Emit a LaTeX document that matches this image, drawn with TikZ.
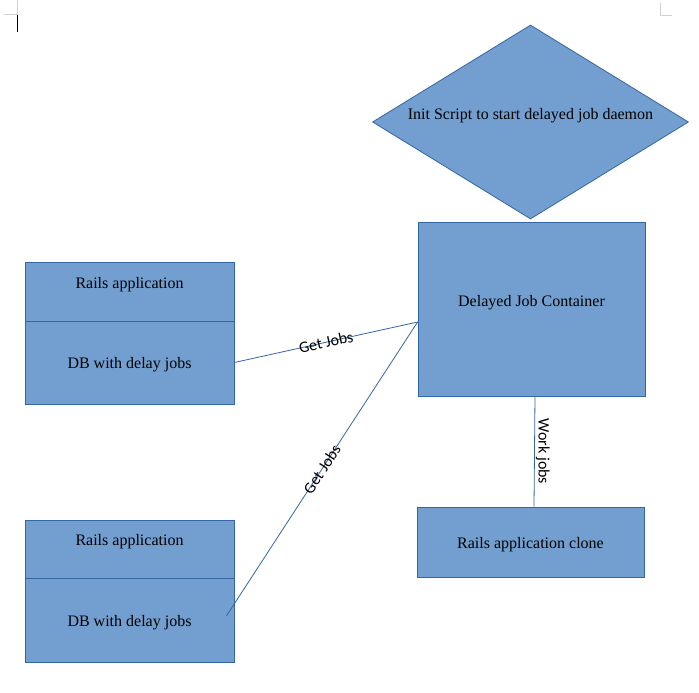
\documentclass[tikz,border=0pt]{standalone}
\usepackage{fontspec}
\setmainfont{Liberation Serif}
\newfontfamily\lblfont{Carlito}
\usetikzlibrary{shapes.geometric}
\definecolor{shapefill}{HTML}{729FCF}
\definecolor{shapeline}{HTML}{3465A4}
\definecolor{markgray}{HTML}{D0D0D0}
\begin{document}
\begin{tikzpicture}[x=1pt,y=-1pt,
  shapebox/.style={draw=shapeline,fill=shapefill,line width=0.8pt,inner sep=0pt,
    font=\fontsize{16}{19}\selectfont,text height=16pt,text depth=4pt},
  box/.style={shapebox,rectangle,minimum width=#1},
  toptext/.style={font=\fontsize{16}{19}\selectfont,text height=16pt,text depth=4pt},
  link/.style={draw=shapeline,line width=0.8pt},
  linklabel/.style={font=\lblfont\fontsize{16}{18}\selectfont,inner sep=1pt}]
  \useasboundingbox (0,0) rectangle (699,693);
  \draw[markgray,line width=1pt] (17,0) -- (17,15) -- (4,15);
  \draw[markgray,line width=1pt] (660,3) -- (660,16) -- (672,16);
  \draw[black,line width=1.5pt] (17.5,15) -- (17.5,32);
  \node[shapebox,diamond,minimum width=316pt,minimum height=194pt,
    label={[toptext,yshift=9pt]center:Init Script to start delayed job daemon}] (init) at (530.5,122) {};
  \node[box=227pt,minimum height=174pt,
    label={[toptext,yshift=9pt]center:Delayed Job Container}] (djc) at (531.5,309) {};
  \node[box=227pt,minimum height=70pt] (clone) at (530.5,542) {Rails application clone};
  \node[box=209pt,minimum height=59pt,
    label={[toptext,yshift=9.5pt]center:Rails application}] (app1) at (129.5,291.5) {};
  \node[box=209pt,minimum height=83pt] (db1) at (129.5,362.5) {DB with delay jobs};
  \node[box=209pt,minimum height=58pt,
    label={[toptext,yshift=10pt]center:Rails application}] (app2) at (129.5,549) {};
  \node[box=209pt,minimum height=84pt] (db2) at (129.5,620) {DB with delay jobs};
  \draw[link] (db1.east) -- node[linklabel,sloped] {Get Jobs} ([yshift=-13pt]djc.west);
  \draw[link] ([xshift=-8pt,yshift=4pt]db2.east) -- node[linklabel,sloped] {Get Jobs} ([yshift=-13pt]djc.west);
  \draw[link] ([xshift=3.5pt]djc.south) -- node[linklabel,rotate=-90,anchor=south] {Work jobs} ([xshift=3.5pt]clone.north);
\end{tikzpicture}
\end{document}
